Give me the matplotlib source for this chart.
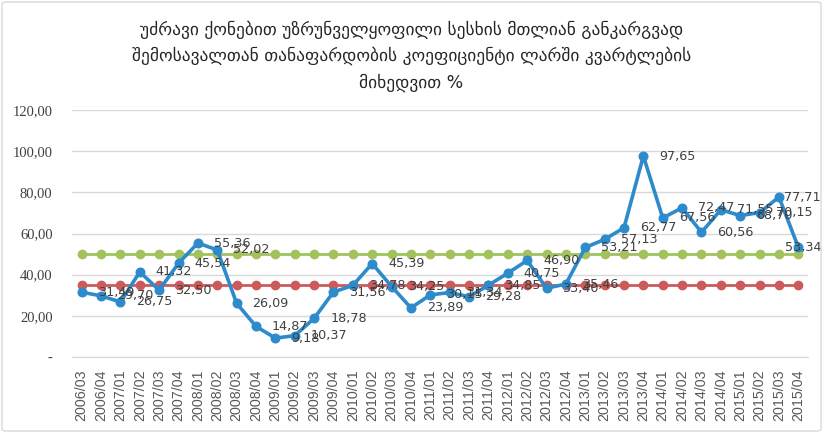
import matplotlib
matplotlib.use("Agg")
import matplotlib.pyplot as plt
from matplotlib.patches import FancyBboxPatch

categories = ["2006/03", "2006/04"] + [f"{y}/{q:02d}" for y in range(2007, 2016) for q in range(1, 5)]

ratio = [31.49, 29.70, 26.75, 41.32, 32.50, 45.54, 55.36, 52.02, 26.09, 14.87,
         9.18, 10.37, 18.78, 31.56, 34.78, 45.39, 34.25, 23.89, 30.15, 31.34,
         29.28, 34.85, 40.75, 46.90, 33.40, 35.46, 53.21, 57.13, 62.77, 97.65,
         67.56, 72.47, 60.56, 71.55, 68.70, 70.15, 77.71, 53.34]
level_35 = [35.0] * len(categories)
level_50 = [50.0] * len(categories)

yticks = [0, 20, 40, 60, 80, 100, 120]
ytick_labels = ["-", "20,00", "40,00", "60,00", "80,00", "100,00", "120,00"]

title = ("უძრავი ქონებით უზრუნველყოფილი სესხის მთლიან განკარგვად\n"
         "შემოსავალთან თანაფარდობის კოეფიციენტი ლარში კვარტლების\n"
         "მიხედვით %")

W, H = 823, 433
fig = plt.figure(figsize=(W / 100, H / 100), dpi=100)
fig.patch.set_facecolor("white")

ax = fig.add_axes([72 / W, 1 - 357 / H, (808 - 72) / W, (357 - 110) / H])
x = list(range(len(categories)))

blue = "#2E8BCB"
red = "#CD5A5A"
green = "#A2C25E"

ax.plot(x, level_50, color=green, lw=2.0, marker="o", ms=6, zorder=3)
ax.plot(x, level_35, color=red, lw=2.0, marker="o", ms=6, zorder=3)
ax.plot(x, ratio, color=blue, lw=2.6, marker="o", ms=6.2, zorder=4)

labels = []
for xi, v in zip(x, ratio):
    t = ax.annotate(f"{v:.2f}".replace(".", ","), (xi, v), xytext=(11.5, 0),
                    textcoords="offset points", ha="left", va="center",
                    fontsize=9.2, color="#404040", family="DejaVu Sans", zorder=6)
    labels.append(t)

ax.set_xlim(-0.5, len(categories) - 0.5)
ax.set_ylim(0, 120)
ax.set_yticks(yticks)
ax.set_yticklabels(ytick_labels, family="Liberation Serif", fontsize=10.5, color="#404040")
ax.set_xticks(x)
ax.set_xticklabels(categories, rotation=90, family="Liberation Sans", fontsize=10.3, color="#595959")
ax.tick_params(axis="both", length=0)
ax.tick_params(axis="y", pad=14)
ax.tick_params(axis="x", pad=9)
ax.grid(axis="y", color="#D9D9D9", lw=1.0)
ax.set_axisbelow(True)
for s in ["top", "right", "left"]:
    ax.spines[s].set_visible(False)
ax.spines["bottom"].set_color("#D9D9D9")

fig.text(0.5, 1 - 56 / H, title, ha="center", va="center", fontsize=12.5,
         color="#262626", family=["DejaVu Sans"], linespacing=1.55)

border = FancyBboxPatch((2 / W, 2 / H), 1 - 4 / W, 1 - 4 / H,
                        boxstyle="round,pad=0,rounding_size=0.005",
                        transform=fig.transFigure, fill=False,
                        edgecolor="#D9D9D9", lw=1.0)
fig.patches.append(border)

# keep data labels inside the chart area (as the spreadsheet does)
fig.canvas.draw()
renderer = fig.canvas.get_renderer()
right_limit = W - 2
for t in labels:
    bb = t.get_window_extent(renderer)
    if bb.x1 > right_limit:
        shift_px = bb.x1 - right_limit
        ox, oy = t.xyann
        t.xyann = (ox - shift_px * 72 / fig.dpi, oy)

fig.savefig("out.png", dpi=100)
